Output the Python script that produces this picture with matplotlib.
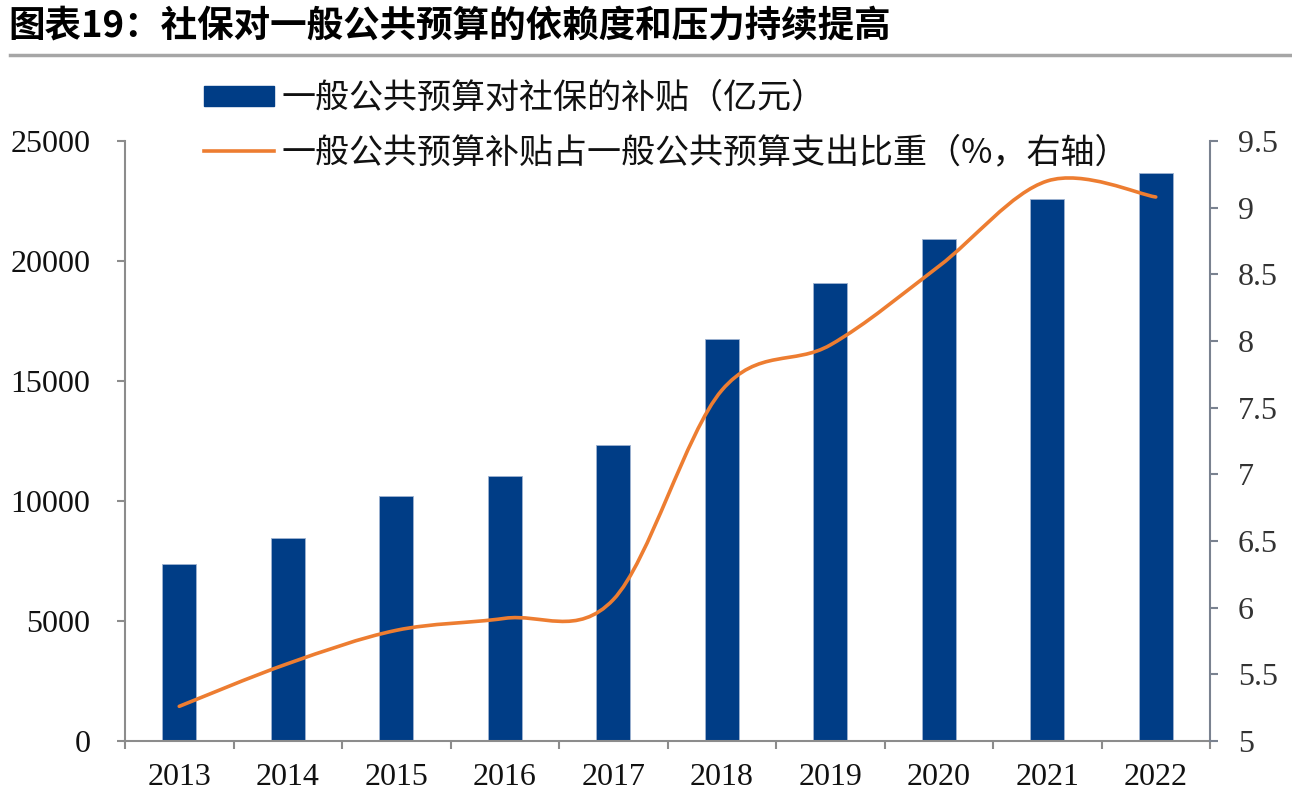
import matplotlib
matplotlib.use("Agg")
import matplotlib.pyplot as plt
from matplotlib.path import Path
from matplotlib.patches import PathPatch, Patch
from matplotlib.lines import Line2D
import numpy as np

years = ["2013", "2014", "2015", "2016", "2017", "2018", "2019", "2020", "2021", "2022"]
subsidy = [7360, 8440, 10200, 11050, 12330, 16750, 19080, 20900, 22570, 23650]
share = [5.26, 5.58, 5.83, 5.92, 6.06, 7.63, 7.97, 8.56, 9.20, 9.08]
left_ticks = [0, 5000, 10000, 15000, 20000, 25000]
right_ticks = [5, 5.5, 6, 6.5, 7, 7.5, 8, 8.5, 9, 9.5]
right_labels = ["5", "5.5", "6", "6.5", "7", "7.5", "8", "8.5", "9", "9.5"]

title = "图表19：社保对一般公共预算的依赖度和压力持续提高"
label_bar = "一般公共预算对社保的补贴（亿元）"
label_line = "一般公共预算补贴占一般公共预算支出比重（%，右轴）"

BAR_C = "#003D86"
LINE_C = "#ED7D31"
AX_C = "#8C8C8C"
CJK = ["Noto Sans CJK SC", "DejaVu Sans"]
SERIF = "Liberation Serif"

fig = plt.figure(figsize=(12.92, 8.05), dpi=100)
ax = fig.add_axes([125/1292, 1-741/805, (1210-125)/1292, (741-141)/805])
ax2 = ax.twinx()

x = np.arange(len(years))
ax.bar(x, subsidy, width=0.31, color=BAR_C, edgecolor="#9FB3D1", linewidth=0.6, zorder=2)
ax.set_xlim(-0.5, len(years) - 0.5)
ax.set_ylim(0, 25000)
ax.set_yticks(left_ticks)
ax.set_yticklabels([str(v) for v in left_ticks], fontfamily=SERIF, fontsize=23, color="#111111")
ax.set_xticks(x)
ax.set_xticklabels(years, fontfamily=SERIF, fontsize=23, color="#111111")
ax.set_xticks(np.arange(-0.5, len(years)), minor=True)
ax.tick_params(axis="x", which="major", length=0, pad=16)
ax.tick_params(axis="x", which="minor", length=6, width=1.5, color=AX_C, direction="out")
ax.tick_params(axis="y", length=6, width=1.5, color=AX_C, direction="out", pad=19)

for s in ["top", "right"]:
    ax.spines[s].set_visible(False)
for s in ["left", "bottom"]:
    ax.spines[s].set_color(AX_C)
    ax.spines[s].set_linewidth(1.5)

ax2.set_ylim(5, 9.5)
ax2.set_yticks(right_ticks)
ax2.set_yticklabels(right_labels, fontfamily=SERIF, fontsize=23, color="#333333")
ax2.tick_params(axis="y", length=6, width=1.5, color="#7A8290", direction="out", pad=14)
for s in ["top", "left", "bottom"]:
    ax2.spines[s].set_visible(False)
ax2.spines["right"].set_color("#7A8290")
ax2.spines["right"].set_linewidth(1.5)

# smoothed line (Catmull-Rom -> cubic Bezier, drawn in data coords of ax2)
px = list(x.astype(float))
py = list(share)
n = len(px)
verts = [(px[0], py[0])]
codes = [Path.MOVETO]
for i in range(n - 1):
    p0 = (px[max(i - 1, 0)], py[max(i - 1, 0)])
    p1 = (px[i], py[i])
    p2 = (px[i + 1], py[i + 1])
    p3 = (px[min(i + 2, n - 1)], py[min(i + 2, n - 1)])
    c1 = (p1[0] + (p2[0] - p0[0]) / 6, p1[1] + (p2[1] - p0[1]) / 6)
    c2 = (p2[0] - (p3[0] - p1[0]) / 6, p2[1] - (p3[1] - p1[1]) / 6)
    verts += [c1, c2, p2]
    codes += [Path.CURVE4] * 3
ax2.add_patch(PathPatch(Path(verts, codes), facecolor="none", edgecolor=LINE_C,
                        linewidth=2.6, capstyle="round", zorder=3))

# legend
handles = [Patch(facecolor=BAR_C, edgecolor=BAR_C),
           Line2D([0], [0], color=LINE_C, linewidth=2.6)]
leg = fig.legend(handles, [label_bar, label_line], loc="upper left",
                 bbox_to_anchor=(204/1292, 1-81/805), frameon=False,
                 prop={"family": CJK, "size": 24.5}, handlelength=2.05, handleheight=0.53,
                 handletextpad=0.24, labelspacing=0.56, borderpad=0, borderaxespad=0)
for t in leg.get_texts():
    t.set_color("#111111")

# title and rule
fig.text(8/1292, 1-26/805, title, fontsize=26.3, fontweight="bold", family=CJK,
         va="center", ha="left", color="#000000")
fig.add_artist(Line2D([10/1292, 1.0], [1-55/805, 1-55/805], color="#A6A6A6", linewidth=2.5))

fig.savefig("out.png", dpi=100)
